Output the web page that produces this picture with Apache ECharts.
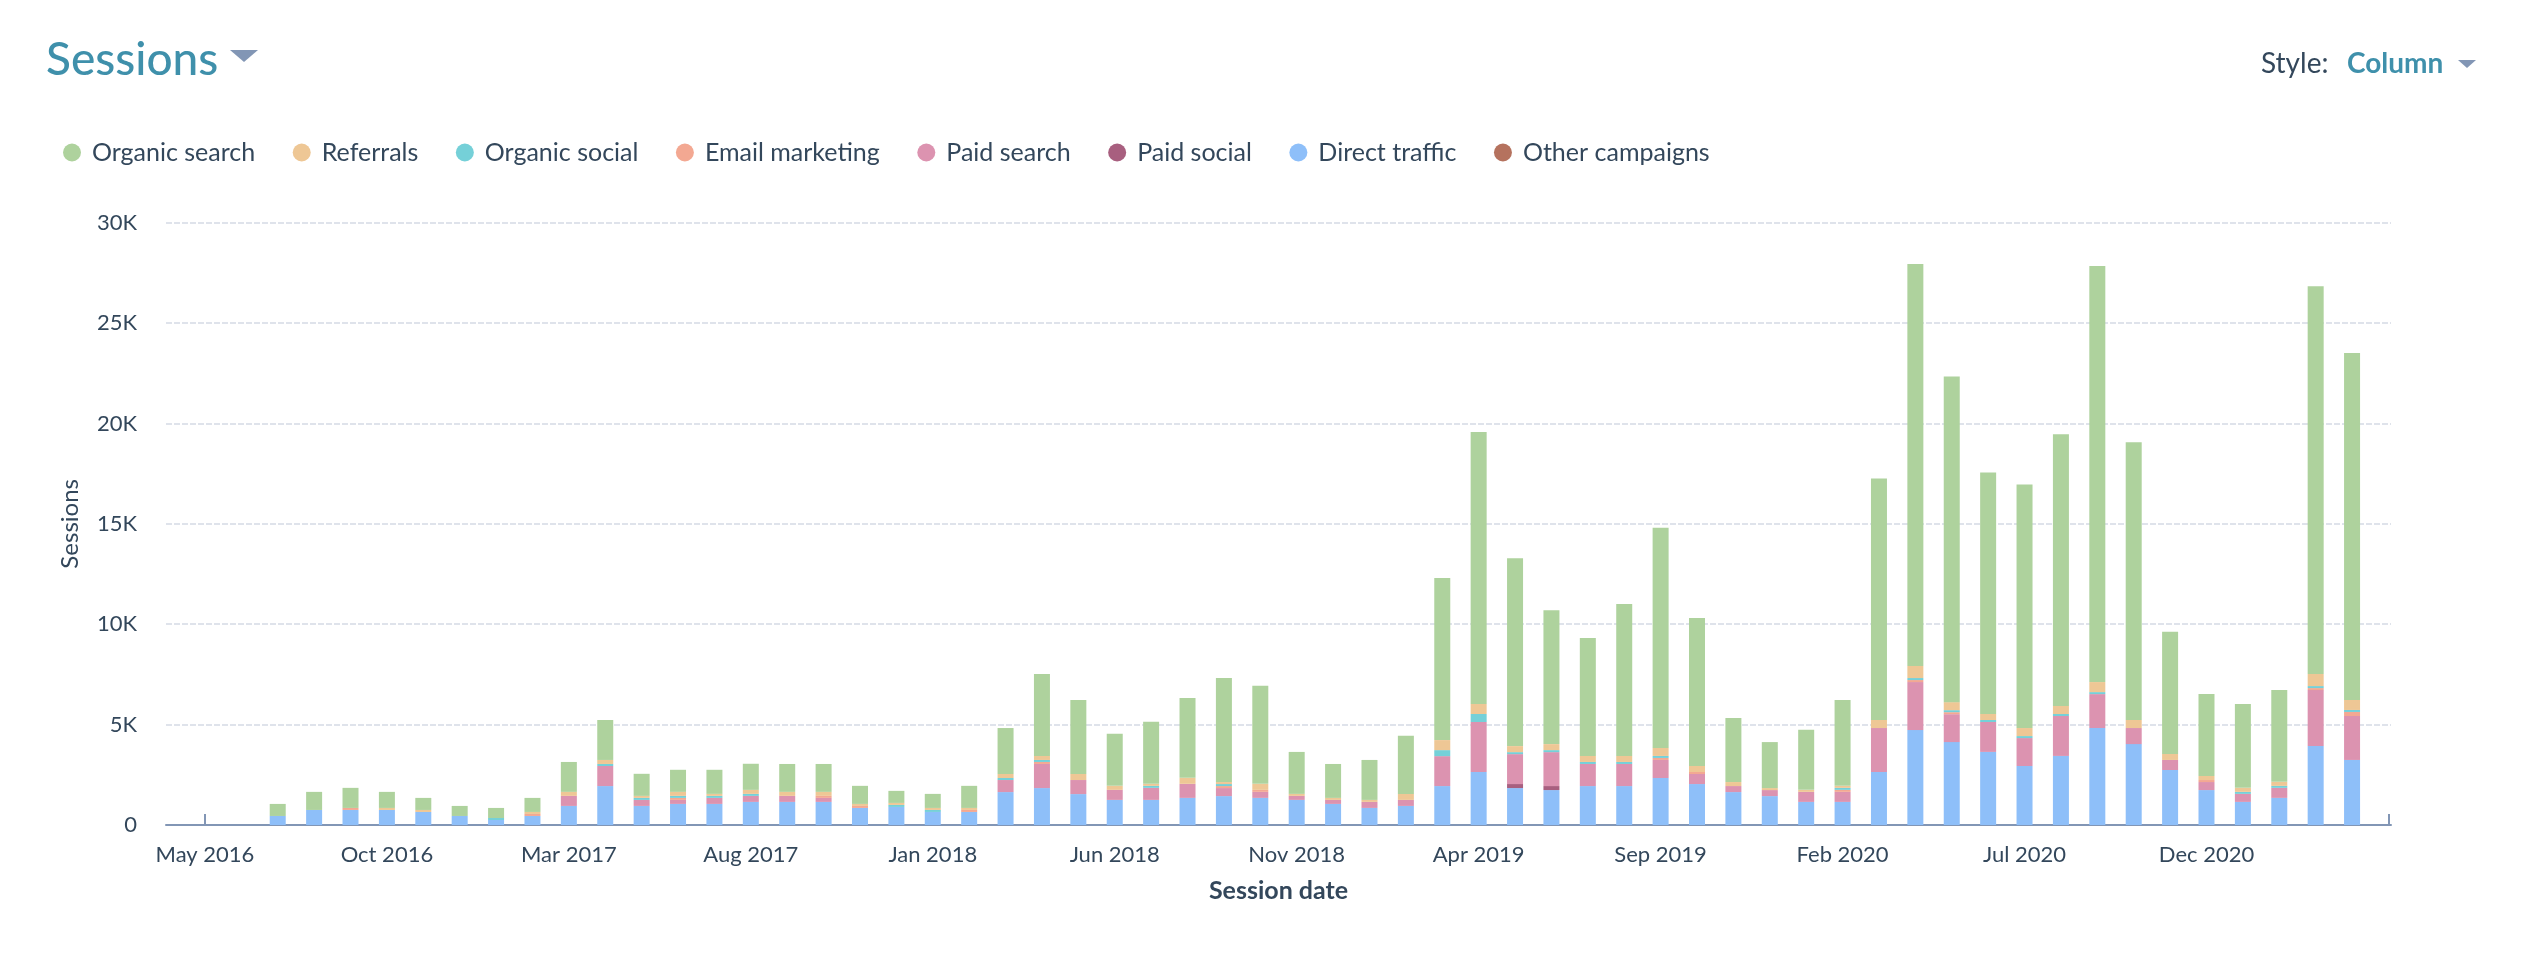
<!DOCTYPE html>
<html>
<head>
<meta charset="utf-8">
<title>Sessions</title>
<script src="https://cdn.jsdelivr.net/npm/echarts@6/dist/echarts.min.js"></script>
<style>
    html, body { margin: 0; padding: 0; background: #fff; }
    #chart { width: 2526px; height: 972px; }
</style>
</head>
<body>
<div id="chart"></div>
<script>
const categories = [
    'May 2016', 'Jun 2016', 'Jul 2016', 'Aug 2016', 'Sep 2016', 'Oct 2016', 'Nov 2016', 'Dec 2016',
    'Jan 2017', 'Feb 2017', 'Mar 2017', 'Apr 2017', 'May 2017', 'Jun 2017', 'Jul 2017', 'Aug 2017', 'Sep 2017', 'Oct 2017', 'Nov 2017', 'Dec 2017',
    'Jan 2018', 'Feb 2018', 'Mar 2018', 'Apr 2018', 'May 2018', 'Jun 2018', 'Jul 2018', 'Aug 2018', 'Sep 2018', 'Oct 2018', 'Nov 2018', 'Dec 2018',
    'Jan 2019', 'Feb 2019', 'Mar 2019', 'Apr 2019', 'May 2019', 'Jun 2019', 'Jul 2019', 'Aug 2019', 'Sep 2019', 'Oct 2019', 'Nov 2019', 'Dec 2019',
    'Jan 2020', 'Feb 2020', 'Mar 2020', 'Apr 2020', 'May 2020', 'Jun 2020', 'Jul 2020', 'Aug 2020', 'Sep 2020', 'Oct 2020', 'Nov 2020', 'Dec 2020',
    'Jan 2021', 'Feb 2021', 'Mar 2021', 'Apr 2021'
];
const labelIndexes = [0, 5, 10, 15, 20, 25, 30, 35, 40, 45, 50, 55];
const organicSearch = [
    0, 0, 600, 900, 1000, 800, 600, 500, 500, 700,
    1490, 1990, 1100, 1100, 1200, 1300, 1390, 1390, 900, 600,
    700, 1100, 2290, 4080, 3690, 2590, 3090, 3980, 5180, 4880,
    2090, 1690, 1990, 2890, 8070, 13550, 9360, 6670, 5880, 7570,
    10960, 7370, 3190, 2290, 2990, 4280, 12030, 20020, 16220, 12030,
    12130, 13530, 20720, 13830, 6080, 4080, 4180, 4580, 19320, 17280
];
const referrals = [
    0, 0, 0, 0, 0, 100, 100, 0, 0, 100,
    200, 200, 100, 200, 100, 200, 200, 200, 100, 100,
    100, 100, 200, 200, 300, 200, 100, 300, 100, 300,
    100, 100, 100, 300, 500, 500, 300, 300, 300, 300,
    400, 300, 200, 100, 100, 100, 400, 600, 400, 300,
    400, 400, 500, 400, 300, 200, 200, 200, 600, 500
];
const organicSocial = [
    0, 0, 0, 0, 0, 0, 0, 0, 100, 0,
    0, 100, 100, 100, 100, 100, 0, 0, 0, 100,
    100, 0, 100, 100, 0, 0, 100, 0, 100, 0,
    0, 0, 0, 0, 300, 400, 100, 100, 100, 100,
    100, 0, 0, 0, 0, 100, 0, 100, 100, 100,
    100, 100, 100, 0, 0, 0, 100, 100, 100, 100
];
const emailMarketing = [
    0, 0, 0, 0, 100, 0, 0, 0, 0, 100,
    0, 0, 0, 100, 0, 0, 0, 100, 100, 0,
    0, 100, 0, 100, 0, 0, 0, 0, 100, 100,
    0, 0, 0, 0, 0, 0, 0, 0, 0, 0,
    100, 100, 0, 0, 0, 100, 0, 100, 100, 0,
    0, 0, 0, 0, 0, 100, 0, 0, 100, 200
];
const paidSearch = [
    0, 0, 0, 0, 0, 0, 0, 0, 0, 0,
    500, 1000, 300, 200, 300, 300, 300, 200, 0, 0,
    0, 0, 600, 1200, 700, 500, 600, 700, 400, 300,
    200, 200, 300, 300, 1490, 2490, 1490, 1690, 1100, 1100,
    900, 500, 300, 300, 500, 500, 2190, 2390, 1390, 1490,
    1390, 1990, 1690, 800, 500, 400, 400, 500, 2790, 2190
];
const paidSocial = [
    0, 0, 0, 0, 0, 0, 0, 0, 0, 0,
    0, 0, 0, 0, 0, 0, 0, 0, 0, 0,
    0, 0, 0, 0, 0, 0, 0, 0, 0, 0,
    0, 0, 0, 0, 0, 0, 200, 200, 0, 0,
    0, 0, 0, 0, 0, 0, 0, 0, 0, 0,
    0, 0, 0, 0, 0, 0, 0, 0, 0, 0
];
const directTraffic = [
    0, 0, 450, 750, 750, 750, 650, 450, 250, 450,
    950, 1940, 950, 1050, 1050, 1150, 1150, 1150, 850, 900,
    650, 650, 1640, 1840, 1540, 1250, 1250, 1350, 1440, 1350,
    1250, 1050, 850, 950, 1940, 2640, 1840, 1740, 1940, 1940,
    2340, 2040, 1640, 1440, 1150, 1150, 2640, 4730, 4130, 3640,
    2940, 3440, 4830, 4030, 2740, 1740, 1150, 1350, 3930, 3240
];
const otherCampaigns = [
    0, 0, 0, 0, 0, 0, 0, 0, 0, 0,
    0, 0, 0, 0, 0, 0, 0, 0, 0, 0,
    0, 0, 0, 0, 0, 0, 0, 0, 0, 0,
    0, 0, 0, 0, 0, 0, 0, 0, 0, 0,
    0, 0, 0, 0, 0, 0, 0, 0, 0, 0,
    0, 0, 0, 0, 0, 0, 0, 0, 0, 0
];
const legendNames = ['Organic search', 'Referrals', 'Organic social', 'Email marketing', 'Paid search', 'Paid social', 'Direct traffic', 'Other campaigns'];

const fontName = 'Lato';
const textColor = '#33475b';
const axisColor = '#8296b5';

// first series sits at the bottom of the stack, the legend reads top down
const seriesDefs = [
    { name: 'Other campaigns', color: '#b5725e', values: otherCampaigns },
    { name: 'Direct traffic', color: '#8ebff9', values: directTraffic },
    { name: 'Paid social', color: '#a85f7f', values: paidSocial },
    { name: 'Paid search', color: '#dc93b0', values: paidSearch },
    { name: 'Email marketing', color: '#f3a892', values: emailMarketing },
    { name: 'Organic social', color: '#75d0d8', values: organicSocial },
    { name: 'Referrals', color: '#eec795', values: referrals },
    { name: 'Organic search', color: '#aed29d', values: organicSearch }
];

let chart = echarts.init(document.getElementById('chart'));
chart.setOption({
    backgroundColor: '#fff',
    animation: false,
    textStyle: { fontFamily: fontName, color: textColor },
    title: {
        text: 'Sessions',
        left: 41,
        top: 32,
        textStyle: { fontFamily: fontName, fontSize: 46, fontWeight: 500, color: '#3f90ab' }
    },
    legend: {
        data: legendNames,
        left: 58,
        top: 135,
        icon: 'circle',
        itemWidth: 18,
        itemHeight: 18,
        itemGap: 37.5,
        selectedMode: false,
        textStyle: { fontFamily: fontName, fontSize: 25, color: textColor, padding: [0, 0, 0, 6] }
    },
    grid: { left: 166, right: 135, top: 222.7, bottom: 147 },
    xAxis: {
        type: 'value',
        min: -1.07,
        max: 60.07,
        name: 'Session date',
        nameLocation: 'middle',
        nameGap: 53,
        nameTextStyle: { fontFamily: fontName, fontSize: 25, fontWeight: 'bold', color: textColor },
        splitLine: { show: false },
        axisLine: { show: true, onZero: false, lineStyle: { color: axisColor, width: 2 } },
        axisTick: { show: true, inside: true, length: 11, customValues: [0, 60], lineStyle: { color: axisColor, width: 2 } },
        axisLabel: {
            customValues: labelIndexes,
            margin: 19,
            fontFamily: fontName,
            fontSize: 22,
            color: textColor,
            formatter: function (v) { return categories[v] || ''; }
        }
    },
    yAxis: {
        type: 'value',
        min: 0,
        max: 30000,
        interval: 5000,
        name: 'Sessions',
        nameLocation: 'middle',
        nameGap: 84,
        nameTextStyle: { fontFamily: fontName, fontSize: 24, color: textColor },
        axisLine: { show: false },
        axisTick: { show: false },
        axisLabel: {
            margin: 29,
            fontFamily: fontName,
            fontSize: 22,
            color: textColor,
            formatter: function (v) { return v === 0 ? '0' : (v / 1000) + 'K'; }
        },
        splitLine: { lineStyle: { color: '#dfe3eb', width: 2, type: [6, 2] } }
    },
    series: seriesDefs.map(function (d) {
        return {
            name: d.name,
            type: 'bar',
            stack: 'sessions',
            barWidth: 16,
            itemStyle: { color: d.color },
            // value first: on a value axis the stack goes on the first numeric dimension
            encode: { x: 1, y: 0 },
            data: d.values.map(function (v, i) { return [v, i]; })
        };
    }),
    graphic: [
        // dropdown carets and the style switch
        { type: 'polygon', shape: { points: [[230, 50], [258, 50], [244, 62]] }, style: { fill: axisColor } },
        { type: 'text', style: { x: 2261, y: 64, text: 'Style:', fontFamily: fontName, fontSize: 28, fill: textColor, verticalAlign: 'middle' } },
        { type: 'text', style: { x: 2347, y: 64, text: 'Column', fontFamily: fontName, fontSize: 28, fontWeight: 'bold', fill: '#3f90ab', verticalAlign: 'middle' } },
        { type: 'polygon', shape: { points: [[2458, 60], [2476, 60], [2467, 68]] }, style: { fill: axisColor } }
    ]
});
window.addEventListener('resize', function () {
    chart.resize();
});
</script>
</body>
</html>
